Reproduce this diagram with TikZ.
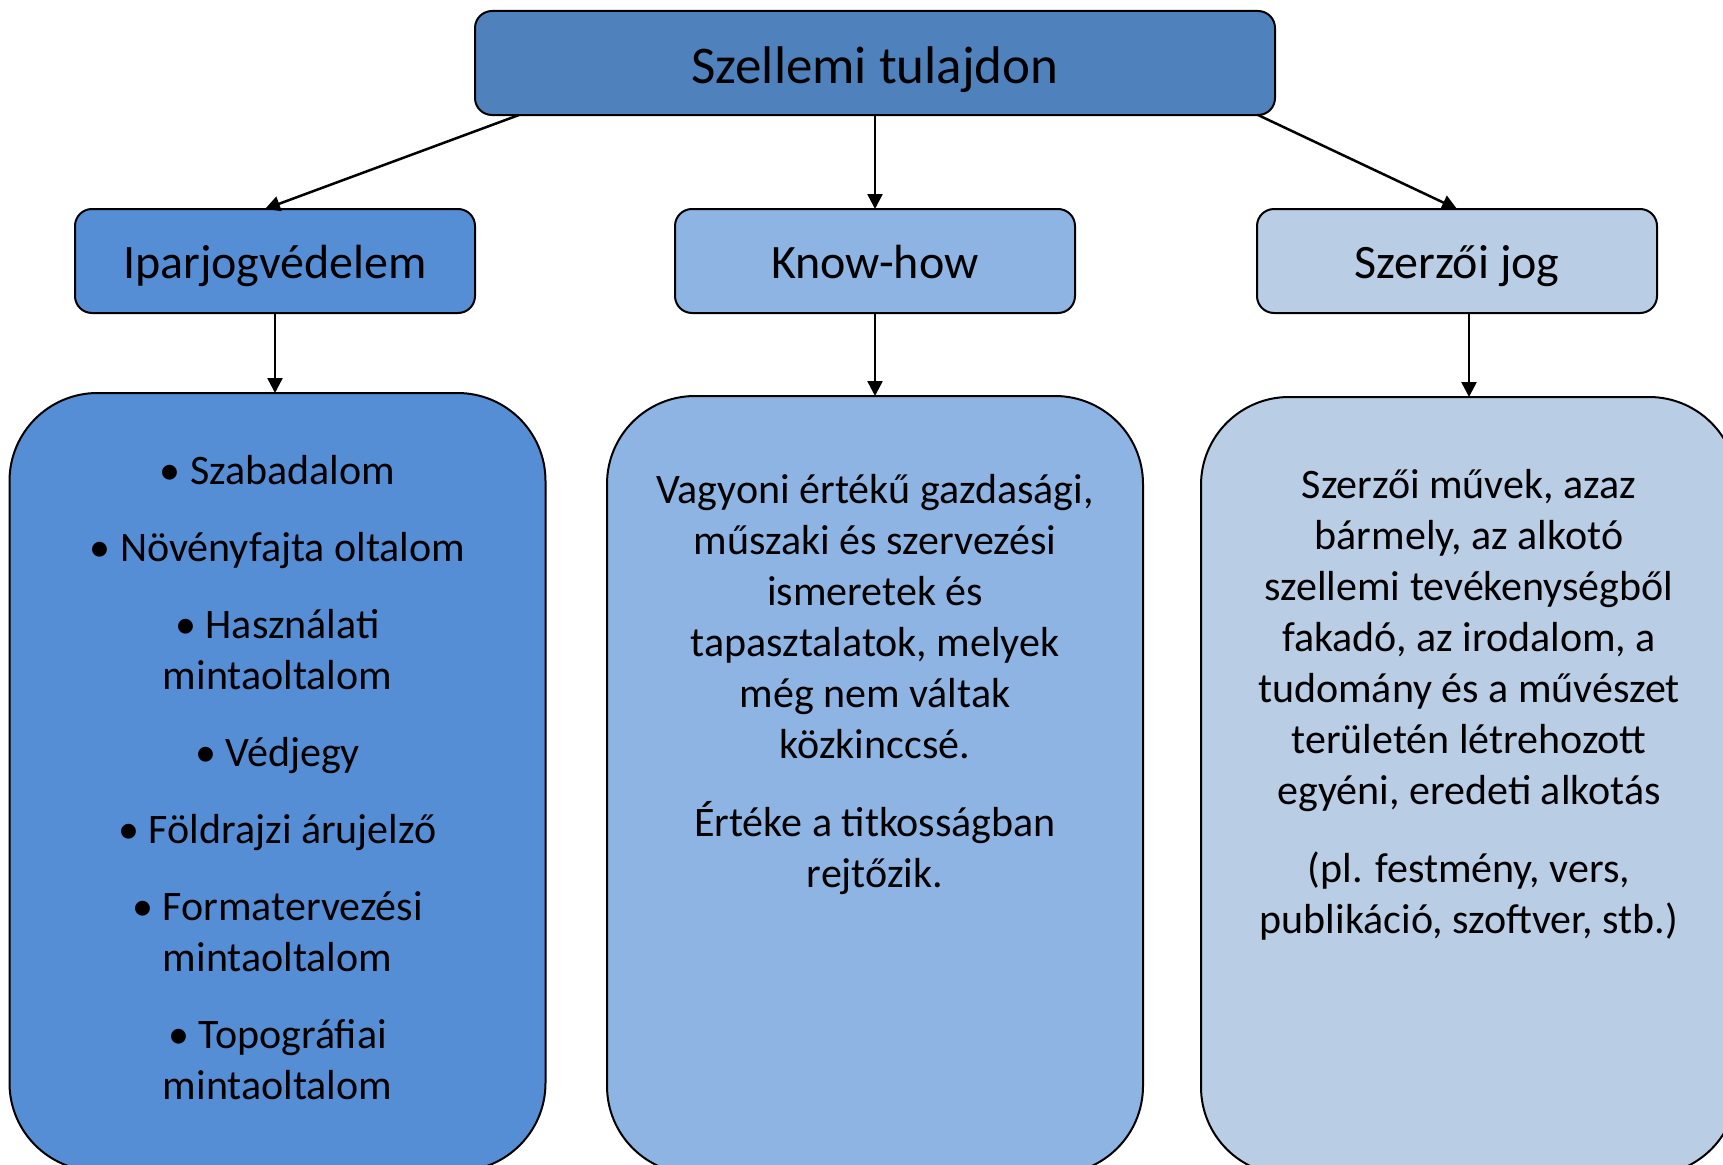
\documentclass[tikz,border=0pt]{standalone}
\usepackage{fontspec}
\setmainfont{Carlito}
\usetikzlibrary{positioning}
\usetikzlibrary{arrows.meta}

\definecolor{topblue}{HTML}{4F81BD}
\definecolor{iparblue}{HTML}{558ED5}
\definecolor{knowblue}{HTML}{8EB4E3}
\definecolor{szerzoblue}{HTML}{B9CDE5}

\begin{document}
\begin{tikzpicture}[x=1pt, y=1pt,
                    headnode/.style={rectangle, draw, rounded corners=17pt, line width=2pt, outer sep=0pt, minimum width=400pt, minimum height=104pt, text height=40pt, text depth=5pt, font=\fontsize{48}{58}\selectfont},
                    topnode/.style={headnode, fill=topblue, minimum width=800pt, text height=48pt, text depth=6pt, font=\fontsize{53}{64}\selectfont},
                    bignode/.style={rectangle, draw, rounded corners=88pt, line width=2pt, outer sep=0pt, minimum width=536pt, minimum height=778pt},
                    textnode/.style={align=center, inner sep=0pt, font=\fontsize{42}{51}\selectfont},
                    linkarrow/.style={-{Triangle[length=15pt,width=15pt]}, line width=2.5pt},
                   ]
  \useasboundingbox (0,0) rectangle (1723,-1164);
  \clip (0,0) rectangle (1723,-1164);

  %Nodes
  \node[topnode]                    (szellemi)  at (875,-63)                 {Szellemi tulajdon};
  \node[headnode, fill=knowblue]    (knowhow)   [below=94pt of szellemi]     {Know-how};
  \node[headnode, fill=iparblue]    (ipar)      [left=200pt of knowhow]      {Iparjogvédelem};
  \node[headnode, fill=szerzoblue]  (szerzo)    [right=182pt of knowhow]     {Szerzői jog};

  \node[bignode, fill=iparblue]     (iparbox)   [below=80pt of ipar, xshift=2.5pt]   {};
  \node[bignode, fill=knowblue]     (knowbox)   [below=83pt of knowhow]              {};
  \node[bignode, fill=szerzoblue]   (szerzobox) [below=84pt of szerzo, xshift=12pt]  {};

  %Texts
  \node[textnode] (iparlist) [below=62pt of iparbox.north]
    {\textbullet\ Szabadalom\\[26pt]
     \textbullet\ Növényfajta oltalom\\[26pt]
     \textbullet\ Használati\\mintaoltalom\\[26pt]
     \textbullet\ Védjegy\\[26pt]
     \textbullet\ Földrajzi árujelző\\[26pt]
     \textbullet\ Formatervezési\\mintaoltalom\\[26pt]
     \textbullet\ Topográfiai\\mintaoltalom};
  \node[textnode] (knowtext) [below=78pt of knowbox.north]
    {Vagyoni értékű gazdasági,\\műszaki és szervezési\\ismeretek és\\tapasztalatok, melyek\\még nem váltak\\közkinccsé.\\[27pt]
     Értéke a titkosságban\\rejtőzik.};
  \node[textnode] (szerzotext) [below=72pt of szerzobox.north]
    {Szerzői művek, azaz\\bármely, az alkotó\\szellemi tevékenységből\\fakadó, az irodalom, a\\tudomány és a művészet\\területén létrehozott\\egyéni, eredeti alkotás\\[27pt]
     (pl. festmény, vers,\\publikáció, szoftver, stb.)};

  %Lines
  \draw[linkarrow] ([xshift=44pt]szellemi.south west) -- ([xshift=-10pt]ipar.north);
  \draw[linkarrow] (szellemi.south) -- (knowhow.north);
  \draw[linkarrow] ([xshift=-17pt]szellemi.south east) -- (szerzo.north);
  \draw[linkarrow] (ipar.south) -- (ipar.south |- iparbox.north);
  \draw[linkarrow] (knowhow.south) -- (knowbox.north);
  \draw[linkarrow] (szerzo.south -| szerzobox.north) -- (szerzobox.north);
\end{tikzpicture}
\end{document}
